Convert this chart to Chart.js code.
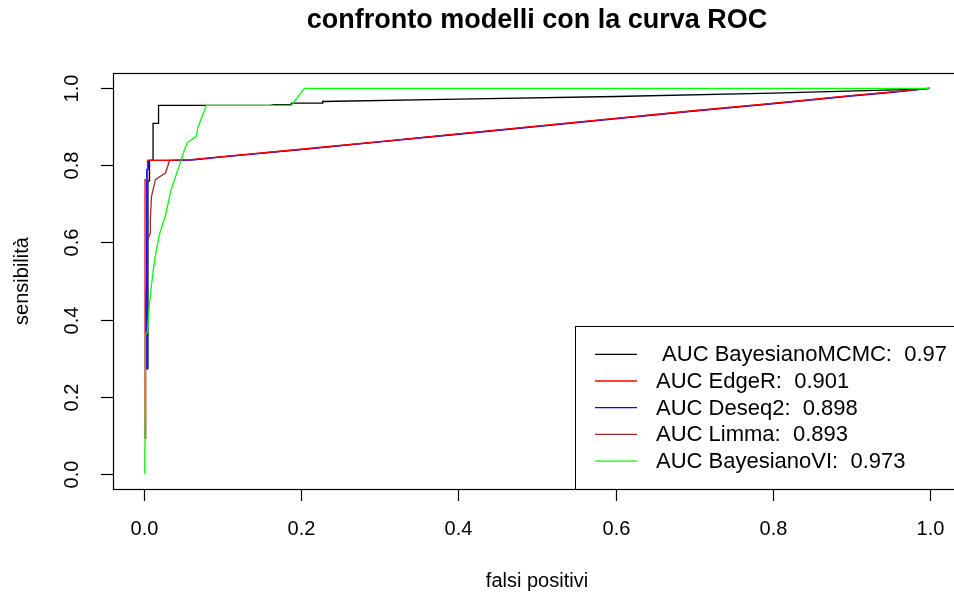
<!DOCTYPE html>
<html>
<head>
<meta charset="utf-8">
<script src="https://cdn.jsdelivr.net/npm/chart.js@4/dist/chart.umd.min.js"></script>
<style>
  html, body { margin: 0; padding: 0; background: #fff; width: 954px; height: 600px; overflow: hidden; }
  canvas { display: block; }
</style>
</head>
<body>
<canvas id="c" width="962" height="600"></canvas>
<script>
// ---- data (false positive rate / sensitivity) ----
const chartTitle = "confronto modelli con la curva ROC";
const xTitle = "falsi positivi";
const yTitle = "sensibilità";
const tickValues = [0, 0.2, 0.4, 0.6, 0.8, 1.0];
const tickLabels = ["0.0", "0.2", "0.4", "0.6", "0.8", "1.0"];

const seriesNames = [" AUC BayesianoMCMC:  0.97", "AUC EdgeR:  0.901", "AUC Deseq2:  0.898", "AUC Limma:  0.893", "AUC BayesianoVI:  0.973"];
const seriesColors = ["#000000", "#FF0000", "#0000FF", "#A52A2A", "#00FF00"];
const drawOrder = [5, 2, 3, 4, 1];

const fprMCMC = [0.0045, 0.0045, 0.0065, 0.0065, 0.011, 0.011, 0.018, 0.018, 0.160, 0.165, 0.187, 0.187, 0.227, 0.227, 0.400, 0.600, 0.800, 0.968, 1.000];
const tprMCMC = [0.270, 0.760, 0.760, 0.813, 0.813, 0.909, 0.909, 0.956, 0.956, 0.958, 0.958, 0.962, 0.962, 0.966, 0.972, 0.979, 0.988, 0.997, 1.000];

const fprEdgeR = [0.0008, 0.0008, 0.004, 0.004, 0.032, 0.060, 0.100, 0.200, 0.300, 0.400, 0.500, 0.600, 0.700, 0.800, 0.900, 0.953, 1.000];
const tprEdgeR = [0.090, 0.763, 0.763, 0.813, 0.813, 0.815, 0.823, 0.842, 0.862, 0.882, 0.902, 0.922, 0.942, 0.961, 0.981, 0.991, 1.000];

const fprDeseq2 = [0.003, 0.003, 0.005, 0.005, 0.032, 0.060, 0.100, 0.200, 0.300, 0.400, 0.500, 0.600, 0.700, 0.800, 0.900, 0.953, 1.000];
const tprDeseq2 = [0.270, 0.790, 0.790, 0.813, 0.813, 0.814, 0.822, 0.841, 0.861, 0.881, 0.901, 0.921, 0.941, 0.960, 0.980, 0.990, 1.000];

const fprLimma = [0.0017, 0.0017, 0.003, 0.003, 0.0076, 0.0076, 0.009, 0.014, 0.027, 0.032, 0.060, 0.100, 0.200, 0.300, 0.400, 0.500, 0.600, 0.700, 0.800, 0.900, 0.953, 1.000];
const tprLimma = [0.090, 0.450, 0.500, 0.600, 0.625, 0.659, 0.719, 0.763, 0.781, 0.813, 0.815, 0.823, 0.842, 0.862, 0.882, 0.902, 0.922, 0.942, 0.961, 0.981, 0.991, 1.000];

const fprVI = [0.000, 0.0004, 0.0013, 0.0013, 0.004, 0.006, 0.009, 0.013, 0.019, 0.027, 0.034, 0.047, 0.051, 0.055, 0.066, 0.068, 0.079, 0.187, 0.204, 1.000];
const tprVI = [0.000, 0.020, 0.200, 0.360, 0.370, 0.430, 0.490, 0.555, 0.620, 0.672, 0.737, 0.815, 0.841, 0.860, 0.875, 0.898, 0.956, 0.956, 1.000, 1.000];

const fprAll = [fprMCMC, fprEdgeR, fprDeseq2, fprLimma, fprVI];
const tprAll = [tprMCMC, tprEdgeR, tprDeseq2, tprLimma, tprVI];

// ---- build datasets ----
const datasets = seriesNames.map((name, i) => ({
  label: name,
  data: fprAll[i].map((x, k) => ({ x: x, y: tprAll[i][k] })),
  borderColor: seriesColors[i],
  backgroundColor: seriesColors[i],
  borderWidth: 1.3,
  showLine: true,
  pointRadius: 0,
  tension: 0,
  order: drawOrder[i]
}));

const FONT = "'Liberation Sans', Arial, sans-serif";

const rPlot = {
  id: 'rPlot',
  afterDatasetsDraw(chart) {
    const ctx = chart.ctx;
    const a = chart.chartArea;
    const xs = chart.scales.x, ys = chart.scales.y;
    ctx.save();
    ctx.strokeStyle = '#000';
    ctx.fillStyle = '#000';
    ctx.lineWidth = 1;

    // legend box
    const lx = 575, ly = 326;
    ctx.fillStyle = '#fff';
    ctx.fillRect(lx, ly, 400, a.bottom - ly);
    ctx.strokeStyle = '#000';
    ctx.strokeRect(lx + 0.5, ly + 0.5, 400, a.bottom - ly);
    ctx.font = '22px ' + FONT;
    ctx.textBaseline = 'middle';
    ctx.textAlign = 'left';
    seriesNames.forEach((name, i) => {
      const y = 354.3 + i * 26.7;
      ctx.strokeStyle = seriesColors[i];
      ctx.lineWidth = 1.3;
      ctx.beginPath();
      ctx.moveTo(595, y);
      ctx.lineTo(637, y);
      ctx.stroke();
      ctx.fillStyle = '#000';
      ctx.fillText(name, 656, y + 1);
    });

    // frame
    ctx.strokeStyle = '#000';
    ctx.lineWidth = 1.2;
    ctx.strokeRect(Math.round(a.left) + 0.5, Math.round(a.top) + 0.5, Math.round(a.right - a.left), Math.round(a.bottom - a.top));

    // x axis ticks + labels
    ctx.fillStyle = '#000';
    ctx.font = '20px ' + FONT;
    ctx.textAlign = 'center';
    ctx.textBaseline = 'middle';
    tickValues.forEach((v, i) => {
      const px = Math.round(xs.getPixelForValue(v)) + 0.5;
      ctx.beginPath();
      ctx.moveTo(px, a.bottom);
      ctx.lineTo(px, a.bottom + 12);
      ctx.stroke();
      ctx.fillText(tickLabels[i], px, 529);
    });
    // y axis ticks + labels (rotated)
    tickValues.forEach((v, i) => {
      const py = Math.round(ys.getPixelForValue(v)) + 0.5;
      ctx.beginPath();
      ctx.moveTo(a.left, py);
      ctx.lineTo(a.left - 12, py);
      ctx.stroke();
      ctx.save();
      ctx.translate(72, py);
      ctx.rotate(-Math.PI / 2);
      ctx.fillText(tickLabels[i], 0, 0);
      ctx.restore();
    });

    // axis titles
    ctx.font = '20px ' + FONT;
    ctx.fillText(xTitle, 537, 581);
    ctx.save();
    ctx.translate(22, 281);
    ctx.rotate(-Math.PI / 2);
    ctx.fillText(yTitle, 0, 0);
    ctx.restore();

    // main title
    ctx.font = 'bold 27px ' + FONT;
    ctx.fillText(chartTitle, 537, 21);
    ctx.restore();
  }
};

new Chart(document.getElementById('c'), {
  type: 'scatter',
  data: { datasets: datasets },
  options: {
    responsive: false,
    animation: false,
    devicePixelRatio: 1,
    layout: { padding: { left: 113, top: 73, right: 1, bottom: 111 } },
    scales: {
      x: { type: 'linear', min: -0.04, max: 1.04, display: false },
      y: { type: 'linear', min: -0.04, max: 1.04, display: false }
    },
    plugins: {
      legend: { display: false },
      tooltip: { enabled: false },
      title: { display: false }
    }
  },
  plugins: [rPlot]
});
</script>
</body>
</html>
